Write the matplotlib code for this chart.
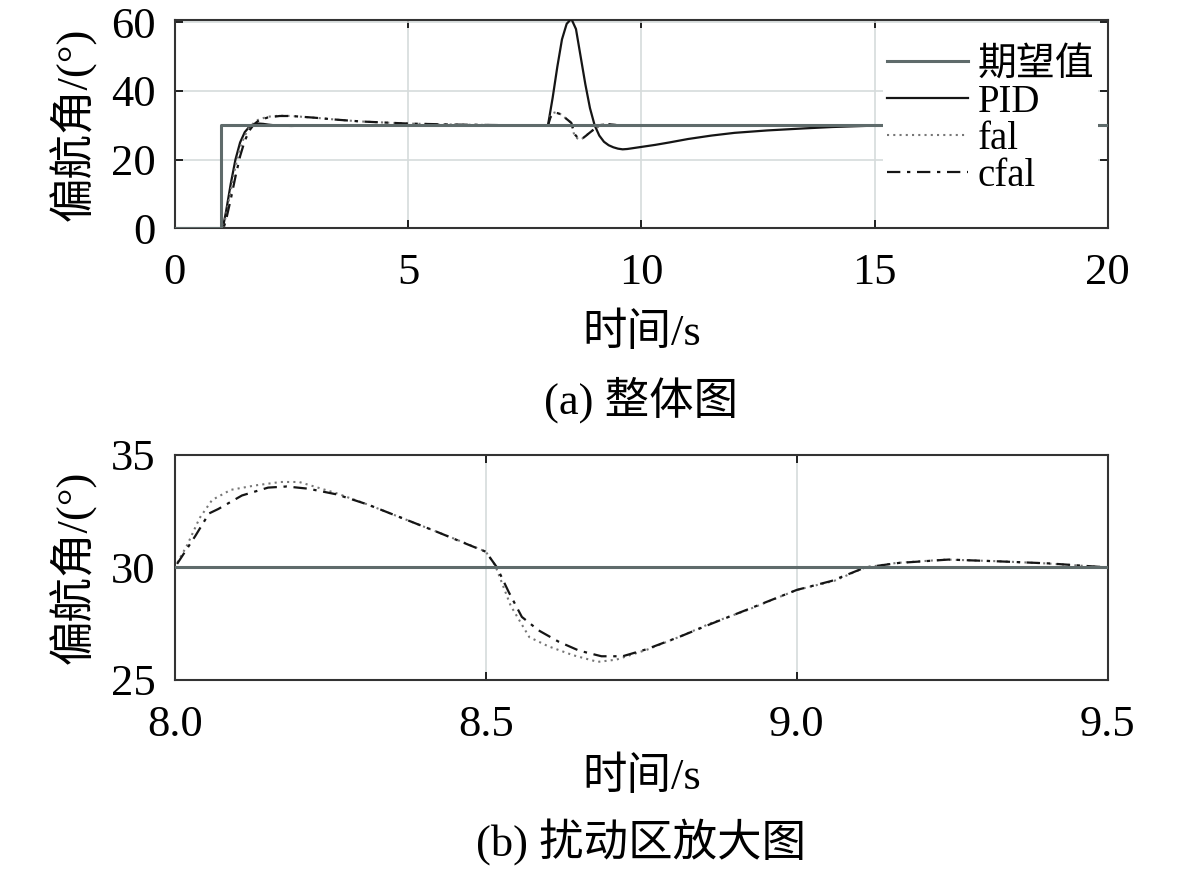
import matplotlib
matplotlib.use("Agg")
import matplotlib.pyplot as plt
from matplotlib.ticker import FormatStrFormatter

plt.rcParams['font.family'] = ['Liberation Serif', 'Noto Sans CJK SC']
plt.rcParams['font.size'] = 32

# 期望值 (reference step)
t_ref = [0, 1, 1, 20]
ref = [0, 0, 30, 30]

# PID
t_pid = [0, 1.0, 1.05, 1.1, 1.2, 1.3, 1.4, 1.5, 1.6, 1.7, 1.8, 1.9, 2.0, 2.2, 2.5, 2.8,
         3.2, 4.0, 5.0, 6.0, 7.0, 8.0, 8.1, 8.2, 8.3, 8.4, 8.5, 8.6, 8.7, 8.8, 8.9, 9.0,
         9.1, 9.2, 9.3, 9.4, 9.5, 9.6, 9.7, 9.8, 10.0, 10.3, 10.6, 11.0, 11.5, 12.0,
         12.7, 13.5, 14.1, 15.0, 20.0]
pid = [0, 0, 1.5, 5, 13, 20, 25, 28, 29.6, 30.3, 30.5, 30.4, 30.2, 29.9, 29.8, 29.9,
       30, 30, 30, 30, 30, 30, 38, 47, 55, 59.5, 61, 58, 50, 42, 35, 30,
       27, 25.2, 24.2, 23.6, 23.2, 23.0, 23.1, 23.3, 23.7, 24.3, 25.0, 26.0, 27.0, 27.8,
       28.5, 29.1, 29.5, 29.9, 30]

# fal
t_fal = [0, 1.0, 1.05, 1.1, 1.2, 1.3, 1.4, 1.5, 1.6, 1.7, 1.8, 2.0, 2.25, 2.5, 3.0,
         3.5, 4.0, 5.0, 6.0, 7.0, 8.0, 8.02, 8.04, 8.06, 8.09, 8.13, 8.17, 8.2, 8.23,
         8.26, 8.31, 8.365, 8.42, 8.47, 8.5, 8.515, 8.54, 8.57, 8.6, 8.64, 8.68, 8.71,
         8.76, 8.81, 8.86, 8.92, 9.0, 9.06, 9.11, 9.16, 9.24, 9.33, 9.4, 9.5, 20.0]
fal = [0, 0, 0.8, 4, 11, 18, 23.5, 27, 29.3, 30.8, 31.7, 32.5, 32.8, 32.7, 32.2,
       31.6, 31.1, 30.5, 30.2, 30.05, 30, 31.0, 32.2, 33.0, 33.45, 33.65, 33.8, 33.8, 33.55,
       33.3, 32.8, 32.2, 31.6, 31.05, 30.7, 30.1, 28.3, 26.9, 26.5, 26.1, 25.8, 25.9,
       26.35, 26.9, 27.5, 28.1, 29.0, 29.4, 30.0, 30.2, 30.35, 30.27, 30.18, 30.0, 30.0]

# cfal
t_cfal = [0, 1.0, 1.05, 1.1, 1.2, 1.3, 1.4, 1.5, 1.6, 1.7, 1.8, 2.0, 2.25, 2.5, 3.0,
          3.5, 4.0, 5.0, 6.0, 7.0, 8.0, 8.033, 8.055, 8.07, 8.108, 8.15, 8.18, 8.215,
          8.26, 8.31, 8.365, 8.42, 8.473, 8.5, 8.518, 8.537, 8.558, 8.585, 8.617, 8.65,
          8.686, 8.72, 8.757, 8.81, 8.863, 8.918, 9.0, 9.056, 9.11, 9.164, 9.244, 9.325,
          9.405, 9.5, 20.0]
cfal = [0, 0, 0.3, 2.5, 8.5, 15, 21, 25.5, 28.5, 30.3, 31.4, 32.3, 32.7, 32.7, 32.2,
        31.6, 31.1, 30.5, 30.2, 30.05, 30, 31.4, 32.4, 32.6, 33.2, 33.55, 33.6, 33.5,
        33.25, 32.8, 32.2, 31.6, 31.0, 30.7, 30.0, 28.9, 27.8, 27.2, 26.7, 26.3,
        26.05, 26.05, 26.35, 26.9, 27.5, 28.1, 29.0, 29.4, 30.0, 30.2, 30.35, 30.27,
        30.18, 30.0, 30.0]

labels = ['期望值', 'PID', 'fal', 'cfal']

fig = plt.figure(figsize=(11.81, 8.75), dpi=100)
ax1 = fig.add_axes([0.148, 0.739, 0.790, 0.238])
ax2 = fig.add_axes([0.148, 0.223, 0.790, 0.257])


def draw(ax, with_pid):
    ax.plot(t_ref, ref, color='#5f6b6b', lw=2.2, label=labels[0], zorder=4)
    if with_pid:
        ax.plot(t_pid, pid, color='#151515', lw=1.6, label=labels[1], zorder=3)
    ax.plot(t_fal, fal, color='#777777', lw=1.5, ls=(0, (1, 2)), label=labels[2], zorder=3)
    ax.plot(t_cfal, cfal, color='#151515', lw=1.6, ls=(0, (6, 3, 1.5, 3)), label=labels[3], zorder=3)
    ax.grid(True, color='#d6dbdb', lw=1.2)
    ax.set_axisbelow(True)
    ax.tick_params(direction='in', top=True, right=True, length=6, width=1.2,
                   labelsize=32)
    ax.tick_params(axis='x', pad=18)
    ax.tick_params(axis='y', pad=14)
    for s in ax.spines.values():
        s.set_color('#333333')
        s.set_linewidth(1.5)


draw(ax1, True)
ax1.set_xlim(0, 20)
ax1.set_ylim(0, 60.6)
ax1.set_xticks([0, 5, 10, 15, 20])
ax1.set_yticks([0, 20, 40, 60])
ax1.set_xlabel('时间/s', fontsize=32, labelpad=14)
ax1.set_ylabel('偏航角/(°)', fontsize=32, labelpad=10)
leg = ax1.legend(loc='upper right', bbox_to_anchor=(0.99, 0.89), fontsize=28,
                 frameon=True, facecolor='white', edgecolor='none', framealpha=1,
                 labelspacing=0.0, handlelength=2.1, handletextpad=0.25,
                 borderpad=0.1, borderaxespad=0)

draw(ax2, False)
ax2.set_xlim(8.0, 9.5)
ax2.set_ylim(25, 35)
ax2.set_xticks([8.0, 8.5, 9.0, 9.5])
ax2.set_yticks([25, 30, 35])
ax2.xaxis.set_major_formatter(FormatStrFormatter('%.1f'))
ax2.set_xlabel('时间/s', fontsize=32, labelpad=8)
ax2.set_ylabel('偏航角/(°)', fontsize=32, labelpad=10)

fig.text(0.543, 0.543, '(a) 整体图', ha='center', va='center', fontsize=32)
fig.text(0.543, 0.037, '(b) 扰动区放大图', ha='center', va='center', fontsize=32)

fig.savefig('out.png', dpi=100)
